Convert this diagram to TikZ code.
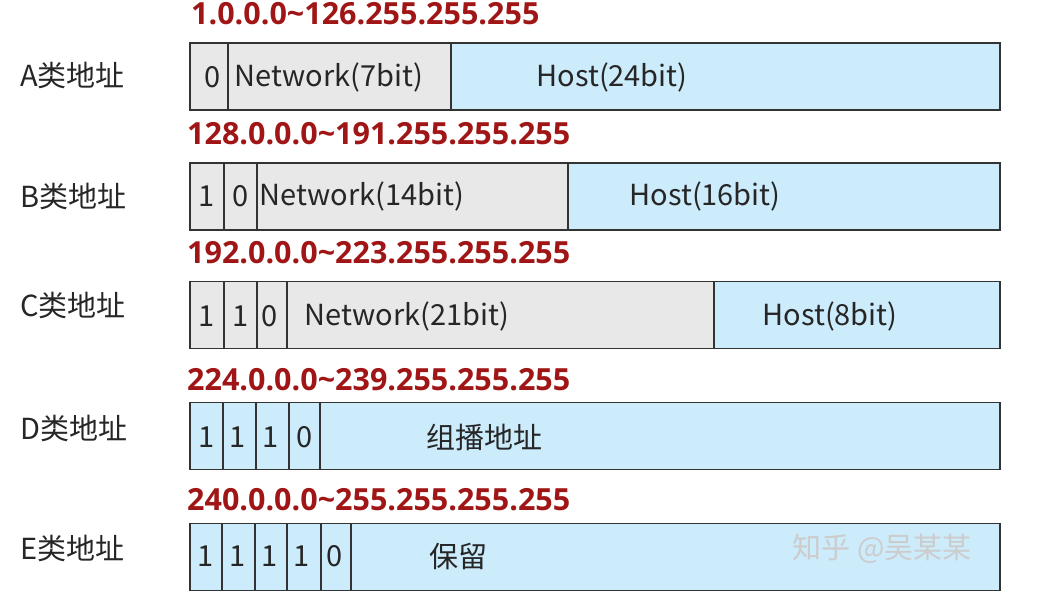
\documentclass[tikz,border=0pt]{standalone}
\usepackage{fontspec}
\setmainfont{Noto Sans}
\newfontfamily\cjk{Noto Sans CJK SC}
\newfontfamily\rangefont{Open Sans}
\definecolor{netgray}{HTML}{E8E8E8}
\definecolor{hostblue}{HTML}{CCEBFB}
\definecolor{rangered}{HTML}{A01515}
\definecolor{edgegray}{HTML}{333333}

\begin{document}
\begin{tikzpicture}[x=1pt,y=-1pt,
    cell/.style={draw=edgegray,line width=1.2pt,inner sep=0pt,outer sep=0pt,
      anchor=west,minimum height=67pt},
    netcell/.style={cell,fill=netgray},
    hostcell/.style={cell,fill=hostblue},
    celltext/.style={inner sep=0pt,font=\cjk\fontsize{29}{33}\selectfont,text=black!85},
    classlabel/.style={anchor=west,inner sep=0pt,font=\cjk\fontsize{29}{33}\selectfont,text=black!85},
    rangelabel/.style={anchor=base west,inner sep=0pt,text=rangered,
      font=\rangefont\bfseries\fontsize{30.5}{35}\selectfont}]
  \useasboundingbox (0,0) rectangle (1041,604);

  % class names on the left
  \foreach \pos/\name/\txt in {{(20,75)/ca/A}, {(20,196)/cb/B}, {(20,305)/cc/C},
      {(20,428)/cd/D}, {(20,548)/ce/E}}
    \node[classlabel] (\name) at \pos {\txt{}类地址};

  % address ranges
  \foreach \pos/\name/\txt in {{(191,25)/ra/1.0.0.0\textasciitilde126.255.255.255},
      {(187,145)/rb/128.0.0.0\textasciitilde191.255.255.255},
      {(187,263)/rc/192.0.0.0\textasciitilde223.255.255.255},
      {(187,390)/rd/224.0.0.0\textasciitilde239.255.255.255},
      {(187,510)/re/240.0.0.0\textasciitilde255.255.255.255}}
    \node[rangelabel] (\name) at \pos {\txt};

  % A
  \foreach \xl/\xr/\tx/\txt/\kind [count=\i] in {190/228/213/0/netcell,
      228/451/329/Network(7bit)/netcell, 451/1000/612/Host(24bit)/hostcell}{
    \node[\kind,minimum width=\xr-\xl] (a\i) at (\xl,76.5) {};
    \node[celltext] (ta\i) at (\tx,77) {\txt};
  }
  % B
  \foreach \xl/\xr/\tx/\txt/\kind [count=\i] in {190/224/207/1/netcell,
      224/257/241/0/netcell, 257/568/362/Network(14bit)/netcell,
      568/1000/705/Host(16bit)/hostcell}{
    \node[\kind,minimum width=\xr-\xl] (b\i) at (\xl,196.5) {};
    \node[celltext] (tb\i) at (\tx,196) {\txt};
  }
  % C
  \foreach \xl/\xr/\tx/\txt/\kind [count=\i] in {190/224/207/1/netcell,
      224/257/241/1/netcell, 257/287/270/0/netcell,
      287/714/407/Network(21bit)/netcell, 714/1000/830/Host(8bit)/hostcell}{
    \node[\kind,minimum width=\xr-\xl] (c\i) at (\xl,315) {};
    \node[celltext] (tc\i) at (\tx,316) {\txt};
  }
  % D
  \foreach \xl/\xr/\tx/\txt/\kind [count=\i] in {190/223/207/1/hostcell,
      223/256/238/1/hostcell, 256/289/271/1/hostcell, 289/320/305/0/hostcell,
      320/1000/484/组播地址/hostcell}{
    \node[\kind,minimum width=\xr-\xl] (d\i) at (\xl,436) {};
    \node[celltext] (td\i) at (\tx,437) {\txt};
  }
  % E
  \foreach \xl/\xr/\tx/\txt/\kind [count=\i] in {190/222/206/1/hostcell,
      222/255/238/1/hostcell, 255/287/270/1/hostcell, 287/321/302/1/hostcell,
      321/351/335/0/hostcell, 351/1000/458/保留/hostcell}{
    \node[\kind,minimum width=\xr-\xl] (e\i) at (\xl,557) {};
    \node[celltext] (te\i) at (\tx,556) {\txt};
  }

  \node[celltext,text=white!80!black] (mark) at (882,549) {知乎 @吴某某};
\end{tikzpicture}
\end{document}
